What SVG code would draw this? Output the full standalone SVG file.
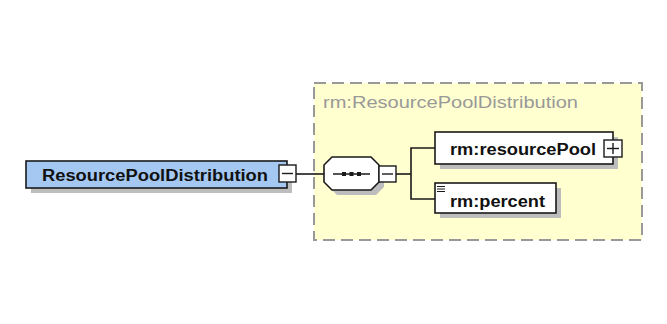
<svg xmlns="http://www.w3.org/2000/svg" width="667" height="324" viewBox="0 0 667 324">
<style>
.box{stroke:#1a1a1a;stroke-width:1.6}
.shadow{fill:#bdbdbd}
.btn{fill:#ffffff;stroke:#1a1a1a;stroke-width:1.4}
.sym{stroke:#1a1a1a;stroke-width:1.4;fill:none}
.lbl{font-family:"Liberation Sans",Arial,sans-serif;font-weight:bold;font-size:16px;fill:#111}
.conn{stroke:#1a1a1a;stroke-width:1.6;fill:none}
</style>
<rect width="667" height="324" fill="#ffffff"/>
<g id="group-ResourcePoolDistribution">
<rect x="314" y="83" width="328" height="157" fill="#ffffd0" stroke="#999999" stroke-width="2" stroke-dasharray="12,6"/>
<text x="323" y="108" font-family="Liberation Sans,Arial,sans-serif" font-size="16" fill="#999999" textLength="255" lengthAdjust="spacingAndGlyphs">rm:ResourcePoolDistribution</text>
</g>
<g id="connectors">
<line class="conn" x1="296" y1="174" x2="324" y2="174"/>
<line class="conn" x1="396" y1="174" x2="411" y2="174"/>
<polyline class="conn" points="435,148 411,148 411,199 435,199"/>
</g>
<g id="node-ResourcePoolDistribution">
<rect class="shadow" x="31" y="166" width="261" height="27"/>
<rect class="box" x="26" y="161" width="261" height="27" fill="#a4c8f2"/>
<text class="lbl" x="42" y="180.5" textLength="226" lengthAdjust="spacingAndGlyphs">ResourcePoolDistribution</text>
<rect class="btn" x="279" y="165" width="17" height="17"/>
<line class="sym" x1="282" y1="173.5" x2="293" y2="173.5"/>
</g>
<g id="node-sequence">
<polygon class="shadow" points="337,162 376,162 384,170 384,187 376,195 337,195 329,187 329,170"/>
<polygon class="box" fill="#ffffff" points="332,157 371,157 379,165 379,182 371,190 332,190 324,182 324,165"/>
<line class="sym" x1="333" y1="174" x2="370" y2="174"/>
<rect x="342" y="172" width="4" height="4" fill="#1a1a1a"/>
<rect x="349.5" y="172" width="4" height="4" fill="#1a1a1a"/>
<rect x="357" y="172" width="4" height="4" fill="#1a1a1a"/>
<rect class="btn" x="379" y="166" width="17" height="16"/>
<line class="sym" x1="382" y1="174" x2="393" y2="174"/>
</g>
<g id="node-resourcePool">
<rect class="shadow" x="440" y="137" width="178" height="32"/>
<rect class="box" x="435" y="132" width="178" height="32" fill="#ffffff"/>
<text class="lbl" x="450" y="154.5" textLength="146" lengthAdjust="spacingAndGlyphs">rm:resourcePool</text>
<rect class="btn" x="604" y="140" width="18" height="17"/>
<line class="sym" x1="607" y1="148.5" x2="619" y2="148.5"/>
<line class="sym" x1="613" y1="143" x2="613" y2="154"/>
</g>
<g id="node-percent">
<rect class="shadow" x="440" y="188" width="121" height="30"/>
<rect class="box" x="435" y="183" width="121" height="30" fill="#ffffff"/>
<g stroke="#1a1a1a" stroke-width="1">
<line x1="437" y1="186.5" x2="445" y2="186.5"/>
<line x1="437" y1="189" x2="445" y2="189"/>
<line x1="437" y1="191.5" x2="445" y2="191.5"/>
</g>
<text class="lbl" x="450" y="206.5" textLength="95" lengthAdjust="spacingAndGlyphs">rm:percent</text>
</g>
</svg>
